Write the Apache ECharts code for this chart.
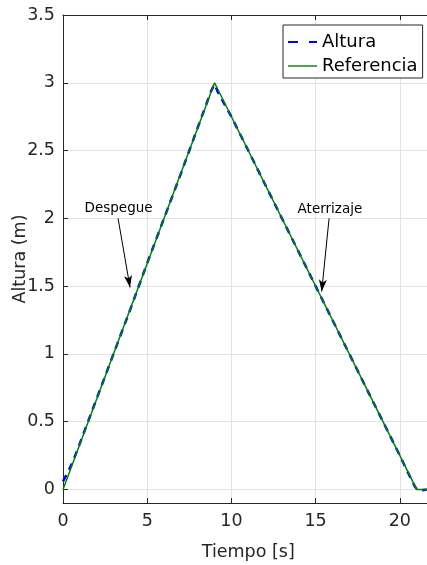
<!DOCTYPE html>
<html><head><meta charset="utf-8">
<script src="https://cdn.jsdelivr.net/npm/echarts@6/dist/echarts.min.js"></script>
<style>html,body{margin:0;padding:0;background:#fff}#c{width:427px;height:565px}</style>
</head><body><div id="c"></div>
<script>
// Reference trajectory
const refTime = [0, 9, 21, 22];
const refAlt  = [0, 3, 0, 0];
// Measured height (Altura)
const altTime = [0, 0.3, 0.6, 1, 2, 3, 4, 5, 6, 7, 8, 8.8, 9, 9.2, 10, 11, 12, 13, 14, 15, 16, 17, 18, 19, 20, 20.5, 20.9, 21.1, 21.6];
const altVal  = [0.06, 0.13, 0.21, 0.34, 0.67, 1.0, 1.33, 1.67, 2.0, 2.33, 2.67, 2.94, 2.99, 2.93, 2.75, 2.5, 2.25, 2.0, 1.75, 1.5, 1.25, 1.0, 0.75, 0.5, 0.25, 0.12, 0.02, -0.01, 0];
// Y tick values
const yTicks = [0, 0.5, 1, 1.5, 2, 2.5, 3, 3.5];
// Annotations
const annLabels = ['Despegue', 'Aterrizaje'];
const annText   = [[3.3, 2.075], [15.85, 2.063]];
const annStart  = [[3.27, 2.0], [15.8, 2.0]];
const annEnd    = [[3.98, 1.49], [15.36, 1.46]];

const FONT = 'DejaVu Sans, Liberation Sans, sans-serif';
const AX = '#262626';
const chart = echarts.init(document.getElementById('c'), null, {renderer: 'canvas'});
const zip = (a, b) => a.map((v, i) => [v, b[i]]);

chart.setOption({
  animation: false,
  backgroundColor: '#fff',
  grid: {left: 63, top: 15, width: 370.5, height: 488, containLabel: false, outerBoundsMode: 'none'},
  legend: {
    left: 283, top: 25, orient: 'vertical',
    backgroundColor: '#fff', borderColor: AX, borderWidth: 1, borderRadius: 0,
    padding: [8, 5, 3, 5], itemGap: 6, itemWidth: 29, itemHeight: 20,
    textStyle: {fontFamily: FONT, fontSize: 18, color: '#000', padding: [0, 0, 0, 0]},
    data: [
      {name: 'Altura', icon: 'path://M0,9 L10,9 L10,11 L0,11 Z M21,9 L29,9 L29,11 L21,11 Z'},
      {name: 'Referencia', icon: 'path://M0,9.3 L29,9.3 L29,10.7 L0,10.7 Z'}
    ]
  },
  xAxis: [{
    type: 'value', min: 0, max: 22, interval: 5, position: 'bottom',
    name: 'Tiempo [s]', nameLocation: 'middle', nameGap: 40,
    nameTextStyle: {fontFamily: FONT, fontSize: 17.5, color: AX},
    axisLine: {show: true, onZero: false, lineStyle: {color: AX, width: 1}},
    axisTick: {show: true, inside: true, length: 5, lineStyle: {color: AX}},
    axisLabel: {fontFamily: FONT, fontSize: 17.5, color: AX, margin: 9,
      formatter: v => (v > 21 ? '' : String(v))},
    splitLine: {show: true, lineStyle: {color: '#e3e3e3', width: 1}}
  }, {
    type: 'value', min: 0, max: 22, interval: 5, position: 'top',
    axisLine: {show: true, onZero: false, lineStyle: {color: AX, width: 1}},
    axisTick: {show: true, inside: true, length: 5, lineStyle: {color: AX}},
    axisLabel: {show: false}, splitLine: {show: false}
  }],
  yAxis: [{
    type: 'value', min: -0.1, max: 3.5,
    name: 'Altura (m)', nameLocation: 'middle', nameGap: 34, nameMoveOverlap: false,
    nameTextStyle: {fontFamily: FONT, fontSize: 17.5, color: AX},
    axisLine: {show: true, onZero: false, lineStyle: {color: AX, width: 1}},
    axisTick: {show: true, inside: true, length: 5, lineStyle: {color: AX}, customValues: yTicks},
    axisLabel: {fontFamily: FONT, fontSize: 17.5, color: AX, margin: 8, customValues: yTicks,
      formatter: v => String(v)},
    splitLine: {show: true, lineStyle: {color: '#e3e3e3', width: 1}}
  }],
  series: [{
    name: 'Altura', type: 'line', data: zip(altTime, altVal), symbol: 'none',
    lineStyle: {color: '#0000ff', width: 2.5, type: [7, 6]}, itemStyle: {color: '#0000ff'}, z: 2
  }, {
    name: 'Referencia', type: 'line', data: zip(refTime, refAlt), symbol: 'none',
    lineStyle: {color: '#008000', width: 1.5}, itemStyle: {color: '#008000'}, z: 3,
    markLine: {
      silent: true, symbol: ['none', 'arrow'], symbolSize: [6, 12],
      lineStyle: {color: '#000', width: 1, type: 'solid'}, label: {show: false},
      data: annStart.map((s, i) => [{coord: s}, {coord: annEnd[i]}])
    },
    markPoint: {
      silent: true, symbol: 'circle', symbolSize: 0,
      label: {show: true, position: 'inside', fontFamily: FONT, fontSize: 13.5, color: '#000',
        formatter: p => p.name},
      data: annText.map((c, i) => ({name: annLabels[i], coord: c}))
    }
  }]
});
</script></body></html>
